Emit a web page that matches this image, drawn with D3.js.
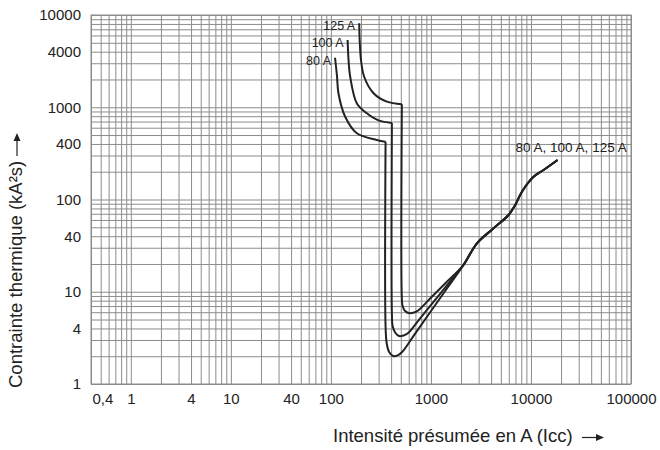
<!DOCTYPE html>
<html>
<head>
<meta charset="utf-8">
<script src="https://cdn.jsdelivr.net/npm/d3@7"></script>
<style>
    body { margin: 0; background: #fff; }
    svg { display: block; font-family: "Liberation Sans", Arial, Helvetica, sans-serif; }
</style>
</head>
<body>
<div id="chart"></div>
<script>
// axis ticks
const xTicks = [0.4, 1, 4, 10, 40, 100, 1000, 10000, 100000];
const xTickLabels = ["0,4", "1", "4", "10", "40", "100", "1000", "10000", "100000"];
const yTicks = [1, 4, 10, 40, 100, 400, 1000, 4000, 10000];
const yTickLabels = ["1", "4", "10", "40", "100", "400", "1000", "4000", "10000"];

// curves, points are [current A, I²t kA²s]
const upper80 = [[110, 3440], [115, 2200], [119, 1420], [139, 790], [182, 522], [288, 442], [352, 423]];
const lower80 = [[352, 423], [352, 4.25], [361, 2.78], [382, 2.22], [419, 2.01], [465, 2.04], [515, 2.22], [695, 3.52], [982, 5.99], [1387, 10.19]];
const upper100 = [[147, 5360], [150, 3300], [156, 2140], [182, 1100], [229, 860], [300, 720], [407, 675]];
const lower100 = [[407, 675], [407, 5.88], [414, 4.25], [439, 3.62], [481, 3.31], [533, 3.36], [592, 3.57], [780, 5.15], [1102, 8.16], [1556, 12.92]];
const upper125 = [[192, 8130], [194, 5360], [200, 3250], [215, 2140], [267, 1420], [363, 1150], [512, 1076]];
const lower125 = [[512, 1076], [512, 8.56], [521, 7.01], [552, 6.18], [612, 5.85], [679, 5.96], [745, 6.26], [982, 8.45], [1387, 12.29]];
// shared part for all three ratings
const common = [[2099, 19.26], [2884, 33.5], [4227, 48.7], [5970, 67.9], [6966, 87.2], [8128, 121.6], [10617, 176.6], [13366, 208.8], [18450, 268]];

const curveNames = ["80 A", "100 A", "125 A"];
const commonName = "80 A, 100 A, 125 A";

const margin = { top: 15, left: 91 },
    width = 540,
    height = 369;

const svg = d3.select("#chart").append("svg")
    .attr("width", 660)
    .attr("height", 450);

const g = svg.append("g")
    .attr("transform", `translate(${margin.left},${margin.top})`);

const x = d3.scaleLog().domain([0.4, 100000]).range([0, width]);
const y = d3.scaleLog().domain([1, 10000]).range([height, 0]);

// log grid lines (1..9 per decade)
const gridX = [0.4, 0.5, 0.6, 0.7, 0.8, 0.9].concat(
    [0, 1, 2, 3, 4].flatMap(k => [1, 2, 3, 4, 5, 6, 7, 8, 9].map(m => m * Math.pow(10, k))), [100000]);
const gridY = [0, 1, 2, 3].flatMap(k => [1, 2, 3, 4, 5, 6, 7, 8, 9].map(m => m * Math.pow(10, k))).concat([10000]);

const gridColor = "#8c8c8c";

g.append("g")
    .attr("transform", `translate(0,${height})`)
    .call(d3.axisBottom(x).tickValues(gridX).tickSize(-height).tickFormat(""))
    .call(a => a.select(".domain").remove())
    .selectAll("line").attr("stroke", gridColor).attr("stroke-width", 1);

g.append("g")
    .call(d3.axisLeft(y).tickValues(gridY).tickSize(-width).tickFormat(""))
    .call(a => a.select(".domain").remove())
    .selectAll("line").attr("stroke", gridColor).attr("stroke-width", 1);

g.append("rect")
    .attr("width", width).attr("height", height)
    .attr("fill", "none").attr("stroke", gridColor);

// tick labels
const xAxis = g.append("g")
    .attr("transform", `translate(0,${height})`)
    .call(d3.axisBottom(x).tickValues(xTicks).tickSize(0).tickFormat((d, i) => xTickLabels[i]));
xAxis.select(".domain").remove();
xAxis.selectAll("text")
    .attr("y", 20).attr("dy", null)
    .attr("fill", "#222").attr("font-size", 15)
    .attr("font-family", null);
xAxis.selectAll("text").filter(d => d === 0.4)
    .attr("text-anchor", "start").attr("x", 1);

const yAxis = g.append("g")
    .call(d3.axisLeft(y).tickValues(yTicks).tickSize(0).tickPadding(10).tickFormat((d, i) => yTickLabels[i]));
yAxis.select(".domain").remove();
yAxis.selectAll("text")
    .attr("fill", "#222").attr("font-size", 15)
    .attr("font-family", null);

// curves
const line = d3.line()
    .x(d => x(d[0]))
    .y(d => y(d[1]))
    .curve(d3.curveCatmullRom.alpha(0.5));

const uppers = [upper80, upper100, upper125];
const lowers = [lower80, lower100, lower125];

uppers.forEach((pts, i) => {
    g.append("path")
        .datum(pts)
        .attr("fill", "none").attr("stroke", "#222").attr("stroke-width", 2)
        .attr("d", line);
    g.append("path")
        .datum(lowers[i].concat(common))
        .attr("fill", "none").attr("stroke", "#222").attr("stroke-width", 2)
        .attr("d", line);
    g.append("text")
        .attr("x", x(pts[0][0]) - 4)
        .attr("y", y(pts[0][1]) + 7)
        .attr("text-anchor", "end")
        .attr("font-size", 12.5)
        .attr("fill", "#222")
        .text(curveNames[i]);
});

const last = common[common.length - 1];
g.append("text")
    .attr("x", x(last[0]) - 42)
    .attr("y", y(last[1]) - 8)
    .attr("font-size", 13.5)
    .attr("fill", "#222")
    .text(commonName);

// axis titles with arrows
function arrow(x1, y1, x2, y2) {
    const ang = Math.atan2(y2 - y1, x2 - x1);
    const len = 8, half = 3.5;
    const bx = x2 - len * Math.cos(ang), by = y2 - len * Math.sin(ang);
    svg.append("line")
        .attr("x1", x1).attr("y1", y1).attr("x2", bx).attr("y2", by)
        .attr("stroke", "#222").attr("stroke-width", 1.2);
    svg.append("path")
        .attr("d", `M${x2},${y2}L${bx - half * Math.sin(ang)},${by + half * Math.cos(ang)}L${bx + half * Math.sin(ang)},${by - half * Math.cos(ang)}Z`)
        .attr("fill", "#222");
}

svg.append("text")
    .attr("x", 333).attr("y", 441.5)
    .attr("font-size", 18.5).attr("fill", "#222")
    .text("Intensité présumée en A (Icc)");
arrow(582, 437.5, 604, 437.5);

svg.append("text")
    .attr("transform", "translate(22,388) rotate(-90)")
    .attr("font-size", 18.5).attr("fill", "#222")
    .text("Contrainte thermique (kA²s)");
arrow(17, 156, 17, 133);
</script>
</body>
</html>
